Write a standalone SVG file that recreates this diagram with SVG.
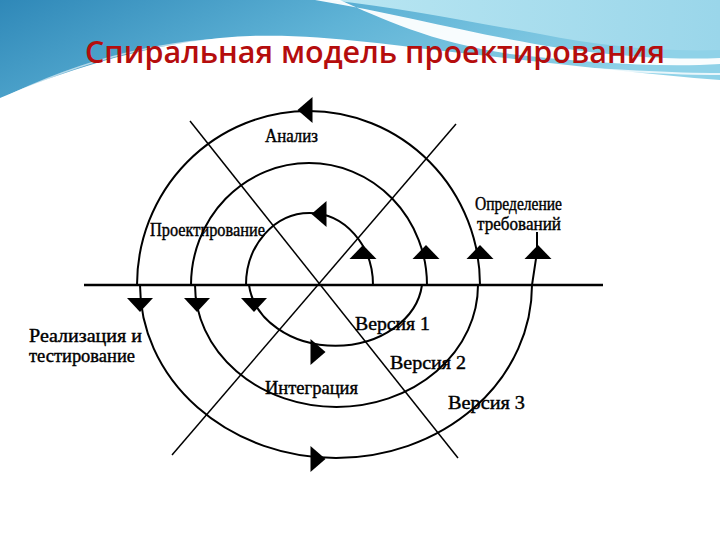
<svg xmlns="http://www.w3.org/2000/svg" width="720" height="540" viewBox="0 0 720 540">
<defs>
<linearGradient id="bg1" x1="0" y1="0" x2="1" y2="0.3">
<stop offset="0" stop-color="#2f88b8"/>
<stop offset="0.5" stop-color="#5fb3d6"/>
<stop offset="1" stop-color="#8fd2e8"/>
</linearGradient>
<linearGradient id="bg2" x1="0" y1="0" x2="1" y2="0">
<stop offset="0" stop-color="#b9e6f2"/>
<stop offset="1" stop-color="#9ad6ea"/>
</linearGradient>
<polygon id="up" points="0,-7 -13.5,7 13.5,7"/>
<polygon id="down" points="0,7 -13,-7 13,-7"/>
<polygon id="left" points="-7.5,0 7.5,-13 7.5,13"/>
<polygon id="right" points="7.5,0 -7.5,-13 -7.5,13"/>
</defs>
<style>
.lbl{font-family:"Liberation Serif","Times New Roman",serif;font-size:18px;fill:#000;stroke:#000;stroke-width:0.4}
.title{font-family:"Open Sans","Liberation Sans",sans-serif;font-size:30px;font-weight:600;fill:#b50d0d}
.sp{fill:none;stroke:#000;stroke-width:2}
.diag{fill:none;stroke:#000;stroke-width:1.5}
.axis{fill:none;stroke:#000;stroke-width:2.5}
.arr{fill:#000}
</style>
<rect width="720" height="540" fill="#fff"/>
<g id="background">
<path d="M0,0 H720 V80 C640,74 560,64 470,54 C380,44 300,30 220,38 C140,46 60,72 0,98 Z" fill="url(#bg1)"/>
<path d="M330,0 H720 V50 C660,52 600,46 540,34 C460,20 400,8 330,0 Z" fill="url(#bg2)"/>
<path d="M315,0 C400,14 470,34 560,48 C620,57 680,60 720,58 L720,64 C660,68 580,62 510,54 C430,42 380,18 340,0 Z" fill="#fff" opacity="0.95"/>
<path d="M0,105 C60,80 140,52 230,48 C330,44 420,56 520,64 C600,70 660,74 720,74" fill="none" stroke="#fff" stroke-width="2" opacity="0.8"/>
<path d="M0,100 C80,60 180,30 300,40 C360,44 400,50 440,54" fill="none" stroke="#fff" stroke-width="1.5" opacity="0.6"/>
</g>
<text id="title" class="title" x="85" y="63" textLength="580" lengthAdjust="spacingAndGlyphs">Спиральная модель проектирования</text>
<g id="connectors">
<line id="axis" class="axis" x1="84" y1="285" x2="603" y2="285"/>
<line id="diag1" class="diag" x1="190" y1="121" x2="458" y2="458"/>
<line id="diag2" class="diag" x1="456" y1="124" x2="172" y2="455"/>
<path id="spiral" class="sp" d="M373,285 A63.5,72 0 0 0 246,285 L249,285 A87,68 0 0 0 422,285 L427,285 A118,122 0 0 0 191,285 L195,285 A141.5,122 0 0 0 478,285 L480,285 A171.5,174 0 0 0 137,285 L140,285 A196,173 0 0 0 532,285 L537,252 L537,232"/>
</g>
<g id="arrows" class="arr">
<use href="#up" x="363" y="252"/>
<use href="#up" x="426" y="252"/>
<use href="#up" x="480" y="252"/>
<use href="#up" x="538" y="252"/>
<use href="#down" x="140" y="305"/>
<use href="#down" x="197" y="305"/>
<use href="#down" x="254" y="305"/>
<use href="#left" x="305" y="110"/>
<use href="#left" x="319" y="214"/>
<use href="#right" x="318" y="352"/>
<use href="#right" x="318" y="459"/>
</g>
<g id="n-analiz"><text class="lbl" x="265" y="142" textLength="53" lengthAdjust="spacingAndGlyphs">Анализ</text></g>
<g id="n-proekt"><text class="lbl" x="150" y="236" textLength="115" lengthAdjust="spacingAndGlyphs">Проектирование</text></g>
<g id="n-opred"><text class="lbl" x="475" y="210" textLength="87" lengthAdjust="spacingAndGlyphs">Определение</text><text class="lbl" x="477" y="230" textLength="84" lengthAdjust="spacingAndGlyphs">требований</text></g>
<g id="n-real"><text class="lbl" x="29" y="342" textLength="113" lengthAdjust="spacingAndGlyphs">Реализация и</text><text class="lbl" x="29" y="362" textLength="106" lengthAdjust="spacingAndGlyphs">тестирование</text></g>
<g id="n-v1"><text class="lbl" x="355" y="330" textLength="75" lengthAdjust="spacingAndGlyphs">Версия 1</text></g>
<g id="n-v2"><text class="lbl" x="390" y="369" textLength="76" lengthAdjust="spacingAndGlyphs">Версия 2</text></g>
<g id="n-integ"><text class="lbl" x="265" y="394" textLength="93" lengthAdjust="spacingAndGlyphs">Интеграция</text></g>
<g id="n-v3"><text class="lbl" x="448" y="409" textLength="77" lengthAdjust="spacingAndGlyphs">Версия 3</text></g>
</svg>
